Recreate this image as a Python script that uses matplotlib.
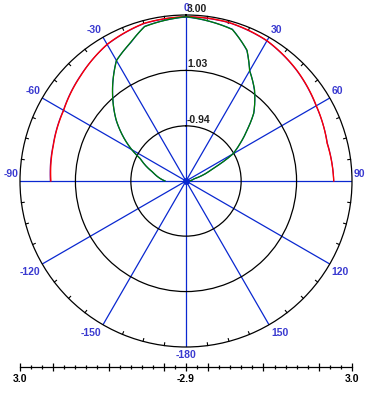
import numpy as np
import matplotlib.pyplot as plt

# radial scale runs from -2.9 at the centre to 3.0 at the rim
r_min, r_max = -2.9, 3.0
ring_values = [-0.94, 1.03]
ring_labels = ['-0.94', '1.03', '3.00']
spoke_angles = list(range(-150, 181, 30))
spoke_labels = ['-150', '-120', '-90', '-60', '-30', '0', '30', '60', '90', '120', '150', '-180']

# front lobe (red / purple)
red_deg = [-90, -75, -60, -45, -30, -15, 0, 15, 30, 45, 60, 75, 90]
red_r = [1.90, 1.98, 2.12, 2.39, 2.71, 2.90, 2.94, 2.94, 2.86, 2.67, 2.45, 2.29, 2.35]
purple_r = [1.92, 1.99, 2.13, 2.40, 2.70, 2.89, 2.93, 2.93, 2.85, 2.66, 2.44, 2.30, 2.35]

# narrow lobe (green / blue)
green_deg = [-90, -75, -64, -60, -56, -49, -42, -30, -22, -15, 0, 17, 25, 30, 37, 45, 50, 55, 60, 65, 75, 90]
green_r = [-2.15, -1.68, -1.09, -0.68, -0.28, 0.38, 0.99, 2.04, 2.39, 2.78, 2.94, 2.73, 2.23, 1.62,
           1.15, 0.50, -0.05, -0.54, -0.97, -1.82, -2.60, -2.80]
blue_r = [-2.16, -1.67, -1.10, -0.67, -0.29, 0.39, 0.98, 2.05, 2.38, 2.79, 2.93, 2.74, 2.22, 1.63,
          1.14, 0.51, -0.06, -0.53, -0.98, -1.81, -2.61, -2.80]

W, H = 373, 395
fig = plt.figure(figsize=(W / 100, H / 100), dpi=100)
plt.rcParams['font.family'] = ['Liberation Sans', 'DejaVu Sans']

blue = '#0a28d0'
label_blue = '#3a3ad0'

ax = fig.add_axes([20 / W, (H - 347) / H, 332 / W, 332 / H], projection='polar')
ax.set_theta_zero_location('N')
ax.set_theta_direction(-1)
ax.set_ylim(r_min, r_max)
ax.set_xticks(np.deg2rad(np.arange(0, 360, 30)))
ax.set_xticklabels([])
ax.set_yticks(ring_values)
ax.set_yticklabels([])
ax.xaxis.grid(True, color=blue, lw=0.9)
ax.yaxis.grid(True, color='black', lw=0.9)
ax.spines['polar'].set_color('black')
ax.spines['polar'].set_linewidth(0.9)

# small ticks round the rim every 7.5 degrees
for a in np.arange(0, 360, 7.5):
    if a % 30:
        ax.plot([np.deg2rad(a)] * 2, [r_max - 0.1, r_max], color='black', lw=0.8, clip_on=False)


def curve(deg, r, color):
    line, = ax.plot(np.deg2rad(deg), r, color=color, lw=0.9)
    # let the polar transform draw smooth arcs between the read points
    line.get_path()._interpolation_steps = 24


curve(red_deg, purple_r, '#800080')
curve(red_deg, red_r, '#ff0000')
curve(green_deg, blue_r, blue)
curve(green_deg, green_r, '#008000')
ax.plot([0], [r_min], 'o', color=blue, ms=4)

# angle labels outside the rim
for a, lab in zip(spoke_angles, spoke_labels):
    s = np.sin(np.deg2rad(a))
    c = np.cos(np.deg2rad(a))
    if abs(s) < 0.01:
        ha, dx = 'center', 0
    elif s > 0:
        ha, dx = 'left', 2
    else:
        ha, dx = 'right', -2
    dy = 7 if c > -0.01 else -8
    ax.annotate(lab, xy=(np.deg2rad(a), r_max), xytext=(dx * 0.72, dy * 0.72),
                textcoords='offset points', ha=ha, va='center', color=label_blue,
                fontsize=7.5, fontweight='bold', annotation_clip=False)

# ring labels along the 0 spoke
for v, lab in zip(ring_values + [r_max], ring_labels):
    ax.annotate(lab, xy=(0, v), xytext=(1 * 0.72, 1 * 0.72), textcoords='offset points',
                ha='left', va='bottom', color='#202020', fontsize=7.5, fontweight='bold',
                annotation_clip=False)

# mirrored radial scale below the plot
span = r_max - r_min
bx = fig.add_axes([20 / W, (H - 367) / H, 332 / W, 0.0001])
bx.set_xlim(-span, span)
bx.set_ylim(0, 1)
for side in ['top', 'left', 'right']:
    bx.spines[side].set_visible(False)
bx.spines['bottom'].set_linewidth(0.9)
bx.set_yticks([])
step = span / 15
major = [k * step for k in (-15, -12, -7, -2, 0, 2, 7, 12, 15)]
minor = [k * step for k in range(-15, 16)]
bx.set_xticks(major)
bx.set_xticks(minor, minor=True)
bx.set_xticklabels(['3.0', '', '', '', '-2.9', '', '', '', '3.0'], fontsize=7.5, fontweight='bold')
bx.tick_params(axis='x', which='major', direction='inout', length=6, width=0.9, pad=2)
bx.tick_params(axis='x', which='minor', direction='inout', length=3.5, width=0.9)

fig.savefig('out.png', dpi=100)
